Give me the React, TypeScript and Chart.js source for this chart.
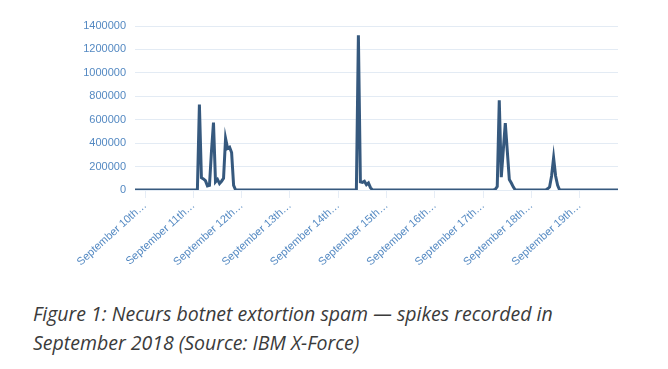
import React, { useEffect, useRef } from "react";
import { Chart, registerables } from "chart.js";

Chart.register(...registerables);

// Day names covering the hourly series (starts Sept 9th 19:00, ends Sept 19th 19:00)
const days = [
  "September 9th",
  "September 10th",
  "September 11th",
  "September 12th",
  "September 13th",
  "September 14th",
  "September 15th",
  "September 16th",
  "September 17th",
  "September 18th",
  "September 19th",
];
const firstHour = 19; // first sample hour on September 9th
const sampleCount = 241;

// Hourly spam volume, one row per day
const volSep9 = [0, 0, 0, 0, 0];
const volSep10 = [0, 0, 0, 0, 0, 0, 0, 0, 0, 0, 0, 0, 0, 0, 0, 0, 0, 0, 0, 0, 0, 0, 0, 0];
const volSep11 = [0, 0, 0, 730000, 105000, 95000, 80000, 35000, 40000, 330000, 575000, 70000, 90000, 55000, 75000, 100000, 440000, 355000, 365000, 320000, 40000, 0, 0, 0];
const volSep12 = [0, 0, 0, 0, 0, 0, 0, 0, 0, 0, 0, 0, 0, 0, 0, 0, 0, 0, 0, 0, 0, 0, 0, 0];
const volSep13 = [0, 0, 0, 0, 0, 0, 0, 0, 0, 0, 0, 0, 0, 0, 0, 0, 0, 0, 0, 0, 0, 0, 0, 0];
const volSep14 = [0, 0, 0, 0, 0, 0, 0, 0, 0, 0, 1320000, 70000, 65000, 75000, 45000, 60000, 20000, 0, 0, 0, 0, 0, 0, 0];
const volSep15 = [0, 0, 0, 0, 0, 0, 0, 0, 0, 0, 0, 0, 0, 0, 0, 0, 0, 0, 0, 0, 0, 0, 0, 0];
const volSep16 = [0, 0, 0, 0, 0, 0, 0, 0, 0, 0, 0, 0, 0, 0, 0, 0, 0, 0, 0, 0, 0, 0, 0, 0];
const volSep17 = [0, 0, 0, 0, 0, 0, 5000, 30000, 765000, 110000, 340000, 570000, 330000, 90000, 60000, 25000, 0, 0, 0, 0, 0, 0, 0, 0];
const volSep18 = [0, 0, 0, 0, 0, 0, 0, 0, 10000, 25000, 120000, 275000, 120000, 40000, 0, 0, 0, 0, 0, 0, 0, 0, 0, 0];
const volSep19 = [0, 0, 0, 0, 0, 0, 0, 0, 0, 0, 0, 0, 0, 0, 0, 0, 0, 0, 0, 0];

const yTicks = [0, 200000, 400000, 600000, 800000, 1000000, 1200000, 1400000];

const caption1 = "Figure 1: Necurs botnet extortion spam \u2014 spikes recorded in";
const caption2 = "September 2018 (Source: IBM X-Force)";

const values = [
  ...volSep9,
  ...volSep10,
  ...volSep11,
  ...volSep12,
  ...volSep13,
  ...volSep14,
  ...volSep15,
  ...volSep16,
  ...volSep17,
  ...volSep18,
  ...volSep19,
];

const labels: string[] = [];
for (let i = 0; i < sampleCount; i++) {
  const h = firstHour + i;
  const d = Math.floor(h / 24);
  const hh = h % 24;
  labels.push(`${days[d]} 2018, ${String(hh).padStart(2, "0")}:00`);
}

const LINE = "#36597e";
const TICK = "#5489c2";

export default function App() {
  const ref = useRef<HTMLCanvasElement | null>(null);
  useEffect(() => {
    if (!ref.current) return;
    const chart = new Chart(ref.current, {
      type: "line",
      data: {
        labels,
        datasets: [
          {
            data: values,
            borderColor: LINE,
            backgroundColor: LINE,
            borderWidth: 3,
            pointRadius: 0,
            tension: 0,
            fill: false,
          },
        ],
      },
      options: {
        animation: false,
        responsive: false,
        maintainAspectRatio: false,
        layout: { padding: { top: 26, right: 50, left: 0, bottom: 0 } },
        plugins: { legend: { display: false }, tooltip: { enabled: false } },
        scales: {
          x: {
            type: "category",
            border: { display: false },
            grid: {
              drawOnChartArea: false,
              drawTicks: true,
              tickLength: 8,
              color: "rgba(205,220,238,0.5)",
            },
            ticks: {
              autoSkip: false,
              minRotation: 42,
              maxRotation: 42,
              padding: 1,
              color: TICK,
              font: { family: "'Liberation Sans', Arial, sans-serif", size: 11 },
              callback: function (this: any, value: any) {
                const l: string = this.getLabelForValue(value);
                if (!l.endsWith(" 00:00")) return null;
                return l.slice(0, 14) + "\u2026";
              },
            },
            afterFit: (s: any) => {
              s.height = 100;
              s.paddingLeft = 0;
              s.paddingRight = 0;
            },
          },
          y: {
            min: 0,
            max: 1400000,
            border: { display: false },
            grid: { color: "#e3ebf4", drawTicks: false, lineWidth: 1 },
            afterBuildTicks: (s: any) => {
              s.ticks = yTicks.map((v) => ({ value: v }));
            },
            ticks: {
              padding: 9,
              color: TICK,
              font: { family: "'Liberation Sans', Arial, sans-serif", size: 11 },
              callback: (v: any) => String(v),
            },
            afterFit: (s: any) => {
              s.width = 135;
            },
          },
        },
      },
    });
    return () => chart.destroy();
  }, []);

  return (
    <div style={{ position: "absolute", left: 0, top: 0, width: 668, height: 369, background: "#fff" }}>
      <canvas ref={ref} width={668} height={290} style={{ position: "absolute", left: 0, top: 0, width: 668, height: 290 }} />
      <div
        style={{
          position: "absolute",
          left: 33,
          top: 299,
          fontFamily: "'Open Sans', 'Noto Sans', sans-serif",
          fontStyle: "italic",
          fontSize: 19.5,
          lineHeight: "29px",
          color: "#3b3b3b",
          whiteSpace: "nowrap",
        }}
      >
        <div>{caption1}</div>
        <div>{caption2}</div>
      </div>
    </div>
  );
}
